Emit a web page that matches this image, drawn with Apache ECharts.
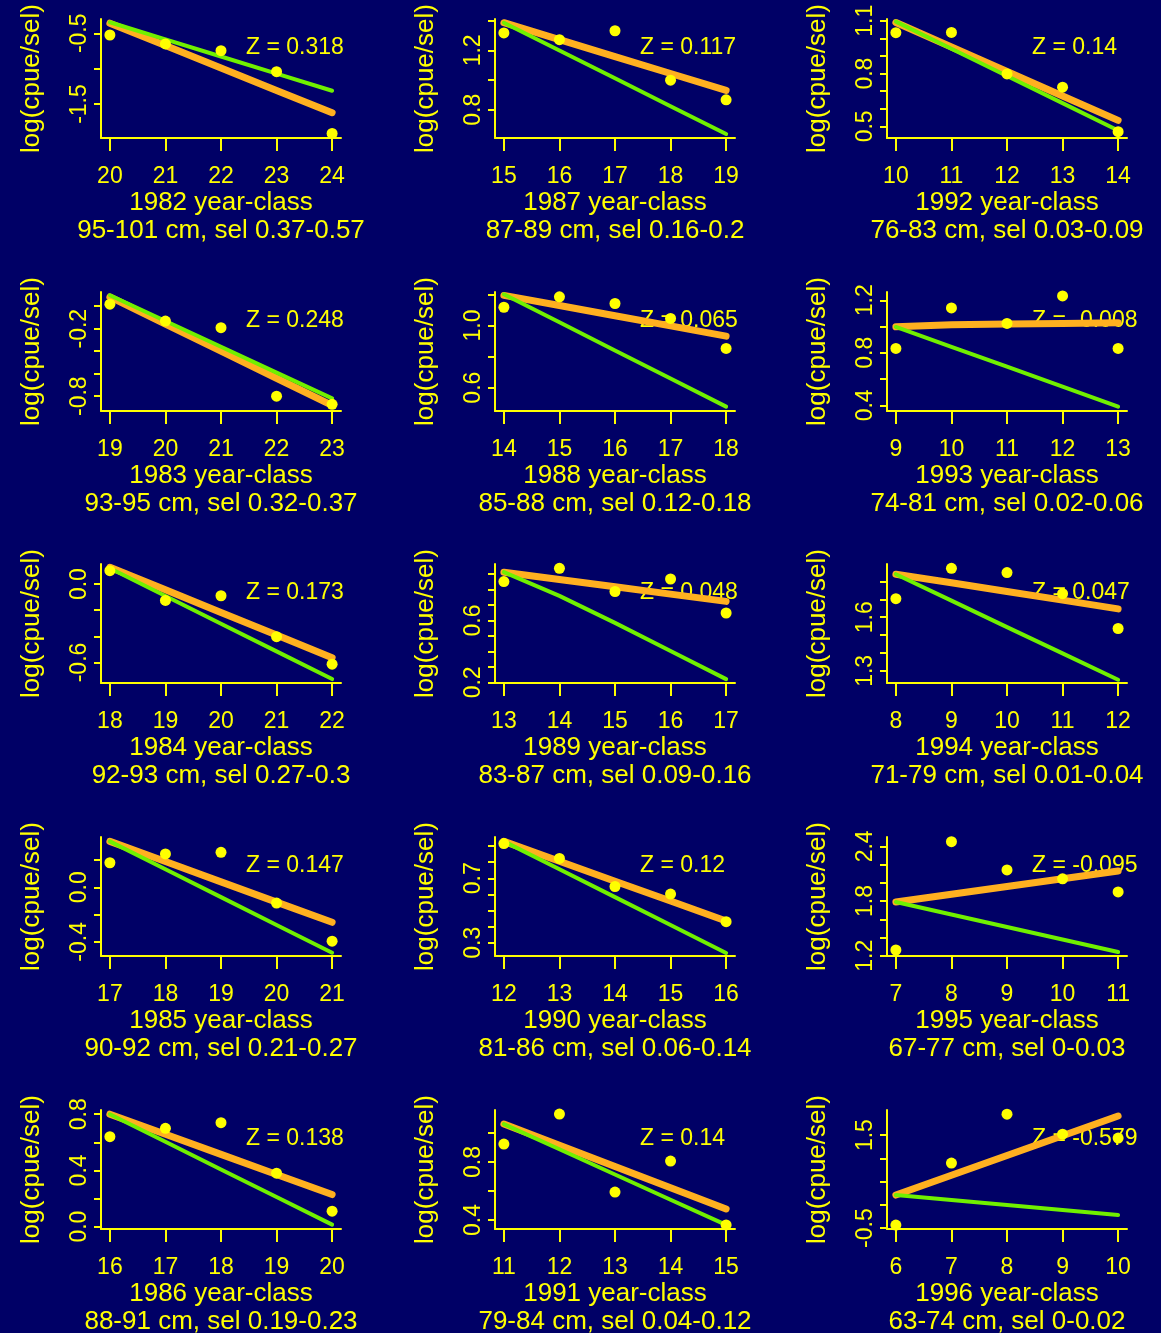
<!DOCTYPE html>
<html>
<head>
<meta charset="utf-8">
<script src="https://cdn.jsdelivr.net/npm/echarts@6/dist/echarts.min.js"></script>
<style>
  html, body { margin: 0; padding: 0; background: #000066; }
  #chart { width: 1161px; height: 1333px; }
</style>
</head>
<body>
<div id="chart"></div>
<script>
// ---- data (panels in row-major order) ----
const yearClasses = ['1982','1987','1992','1983','1988','1993','1984','1989','1994','1985','1990','1995','1986','1991','1996'];
const lengthSel = [
  '95-101 cm, sel 0.37-0.57','87-89 cm, sel 0.16-0.2','76-83 cm, sel 0.03-0.09',
  '93-95 cm, sel 0.32-0.37','85-88 cm, sel 0.12-0.18','74-81 cm, sel 0.02-0.06',
  '92-93 cm, sel 0.27-0.3','83-87 cm, sel 0.09-0.16','71-79 cm, sel 0.01-0.04',
  '90-92 cm, sel 0.21-0.27','81-86 cm, sel 0.06-0.14','67-77 cm, sel 0-0.03',
  '88-91 cm, sel 0.19-0.23','79-84 cm, sel 0.04-0.12','63-74 cm, sel 0-0.02'
];
const firstAge = [20,15,10, 19,14,9, 18,13,8, 17,12,7, 16,11,6];
const zValues = ['0.318','0.117','0.14','0.248','0.065','-0.008','0.173','0.048','0.047','0.147','0.12','-0.095','0.138','0.14','-0.579'];

const observed = [
  [-0.524,-0.651,-0.746,-1.043,-1.915],
  [1.317,1.272,1.332,0.999,0.867],
  [1.032,1.034,0.798,0.723,0.470],
  [0.018,-0.132,-0.191,-0.800,-0.873],
  [1.117,1.184,1.141,1.045,0.852],
  [0.833,1.142,1.024,1.233,0.833],
  [0.103,-0.125,-0.089,-0.402,-0.613],
  [0.852,0.938,0.788,0.869,0.649],
  [1.704,1.874,1.850,1.732,1.537],
  [0.180,0.245,0.257,-0.116,-0.395],
  [0.915,0.823,0.649,0.602,0.431],
  [1.263,2.452,2.141,2.044,1.900],
  [0.64,0.70,0.74,0.38,0.11],
  [0.924,1.131,0.593,0.807,0.366],
  [-0.435,0.898,1.95,1.52,1.435]
];
const greenFit = [
  [-0.344,-0.586,-0.828,-1.070,-1.312],
  [1.386,1.199,1.012,0.824,0.637],
  [1.095,0.941,0.786,0.632,0.477],
  [0.097,-0.132,-0.361,-0.591,-0.820],
  [1.2,1.02,0.839,0.659,0.478],
  [0.997,0.845,0.694,0.542,0.39],
  [0.121,-0.091,-0.303,-0.515,-0.727],
  [0.913,0.760,0.585,0.403,0.221],
  [1.841,1.693,1.545,1.398,1.250],
  [0.337,0.133,-0.072,-0.276,-0.480],
  [0.929,0.756,0.583,0.410,0.237],
  [1.789,1.652,1.515,1.378,1.241],
  [0.8,0.604,0.407,0.211,0.014],
  [1.062,0.888,0.714,0.540,0.366],
  [0.21,0.103,-0.005,-0.113,-0.22]
];
const orangeFit = [
  [-0.358,-0.674,-0.990,-1.307,-1.623],
  [1.386,1.272,1.158,1.044,0.930],
  [1.090,0.951,0.812,0.673,0.534],
  [0.082,-0.159,-0.400,-0.641,-0.882],
  [1.193,1.128,1.062,0.997,0.931],
  [0.998,1.013,1.019,1.024,1.028],
  [0.129,-0.044,-0.217,-0.390,-0.563],
  [0.913,0.866,0.819,0.771,0.724],
  [1.841,1.793,1.744,1.696,1.647],
  [0.337,0.189,0.040,-0.109,-0.257],
  [0.929,0.806,0.682,0.559,0.435],
  [1.789,1.874,1.960,2.045,2.130],
  [0.8,0.657,0.514,0.371,0.228],
  [1.062,0.916,0.769,0.623,0.476],
  [0.21,0.635,1.06,1.485,1.91]
];
const yTicks = [
  [-1.5,-1.0,-0.5],
  [0.8,1.0,1.2,1.4],
  [0.5,0.6,0.7,0.8,0.9,1.0,1.1],
  [-0.8,-0.6,-0.4,-0.2,0.0],
  [0.6,0.8,1.0,1.2],
  [0.4,0.6,0.8,1.0,1.2],
  [-0.6,-0.4,-0.2,0.0],
  [0.2,0.3,0.4,0.5,0.6,0.7,0.8,0.9],
  [1.3,1.4,1.5,1.6,1.7,1.8],
  [-0.4,-0.2,0.0,0.2],
  [0.3,0.4,0.5,0.6,0.7,0.8,0.9],
  [1.2,1.4,1.6,1.8,2.0,2.2,2.4],
  [0.0,0.2,0.4,0.6,0.8],
  [0.4,0.6,0.8,1.0],
  [-0.5,0.0,0.5,1.0,1.5]
];
const yLabels = [
  [-1.5,-0.5],[0.8,1.2],[0.5,0.8,1.1],
  [-0.8,-0.2],[0.6,1.0],[0.4,0.8,1.2],
  [-0.6,0.0],[0.2,0.6],[1.3,1.6],
  [-0.4,0.0],[0.3,0.7],[1.2,1.8,2.4],
  [0.0,0.4,0.8],[0.4,0.8],[-0.5,1.5]
];
const yAxisMin = [-1.98,0.61,0.434, -0.932,0.45,0.357, -0.757,0.196,1.232, -0.504,0.218,1.197, -0.017,0.338,-0.52];
const yAxisMax = [-0.298,1.411,1.11, 0.126,1.215,1.263, 0.154,0.966,1.898, 0.369,0.956,2.503, 0.83,1.159,2.04];

// ---- layout / style ----
const FG = '#ffff00';
const GREEN = '#70f000';
const ORANGE = '#ffb020';
const FONT = '"Liberation Sans", Arial, sans-serif';
const gridLefts = [101, 495, 887];
const gridTops = [19, 292, 564, 837, 1110];
const gridW = 240, gridH = 119;

const grids = [], xAxes = [], yAxes = [], series = [], graphics = [];
for (let i = 0; i < yearClasses.length; i++) {
  const r = Math.floor(i / 3), c = i % 3;
  const left = gridLefts[c], top = gridTops[r];
  grids.push({ left: left, top: top, width: gridW, height: gridH, outerBoundsMode: 'none', containLabel: false });
  const ages = [0,1,2,3,4].map(k => firstAge[i] + k);
  xAxes.push({
    gridIndex: i, type: 'value', min: ages[0] - 0.16, max: ages[4] + 0.16,
    axisLine: { show: true, onZero: false, lineStyle: { color: FG, width: 2 } },
    axisTick: { show: true, customValues: ages, length: 13, lineStyle: { color: FG, width: 2 } },
    axisLabel: { show: true, customValues: ages, color: FG, fontSize: 23, fontFamily: FONT, margin: 27,
                 formatter: v => String(Math.round(v)) },
    splitLine: { show: false },
    name: yearClasses[i] + ' year-class\n' + lengthSel[i],
    nameLocation: 'middle', nameGap: 51, nameMoveOverlap: false,
    nameTextStyle: { color: FG, fontSize: 26, lineHeight: 28, fontFamily: FONT }
  });
  yAxes.push({
    gridIndex: i, type: 'value', min: yAxisMin[i], max: yAxisMax[i],
    axisLine: { show: true, onZero: false, lineStyle: { color: FG, width: 2 } },
    axisTick: { show: true, customValues: yTicks[i], length: 7, lineStyle: { color: FG, width: 2 } },
    axisLabel: { show: true, customValues: yLabels[i], rotate: 90, color: FG, fontSize: 23, fontFamily: FONT, margin: 10,
                 formatter: v => v.toFixed(1) },
    splitLine: { show: false },
    name: 'log(cpue/sel)', nameLocation: 'middle', nameGap: 56, nameMoveOverlap: false,
    nameTextStyle: { color: FG, fontSize: 26, fontFamily: FONT }
  });
  series.push({
    type: 'line', xAxisIndex: i, yAxisIndex: i, z: 3, silent: true, showSymbol: false, symbol: 'none',
    data: orangeFit[i].map((v, k) => [ages[k], v]),
    lineStyle: { color: ORANGE, width: 7, cap: 'round', join: 'round' }
  });
  series.push({
    type: 'line', xAxisIndex: i, yAxisIndex: i, z: 4, silent: true, showSymbol: false, symbol: 'none',
    data: greenFit[i].map((v, k) => [ages[k], v]),
    lineStyle: { color: GREEN, width: 4, cap: 'round', join: 'round' }
  });
  series.push({
    type: 'scatter', xAxisIndex: i, yAxisIndex: i, z: 5, silent: true,
    symbol: 'circle', symbolSize: 11,
    data: observed[i].map((v, k) => [ages[k], v]),
    itemStyle: { color: FG, opacity: 1 }
  });
  graphics.push({
    type: 'text', x: left + 145, y: top + 29, z: 1, silent: true,
    style: { text: 'Z = ' + zValues[i], fill: FG, font: '23px ' + FONT, verticalAlign: 'middle', align: 'left' }
  });
}

const chart = echarts.init(document.getElementById('chart'), null, { renderer: 'canvas' });
chart.setOption({
  backgroundColor: '#000066',
  animation: false,
  grid: grids, xAxis: xAxes, yAxis: yAxes, series: series,
  graphic: { elements: graphics }
});
</script>
</body>
</html>
